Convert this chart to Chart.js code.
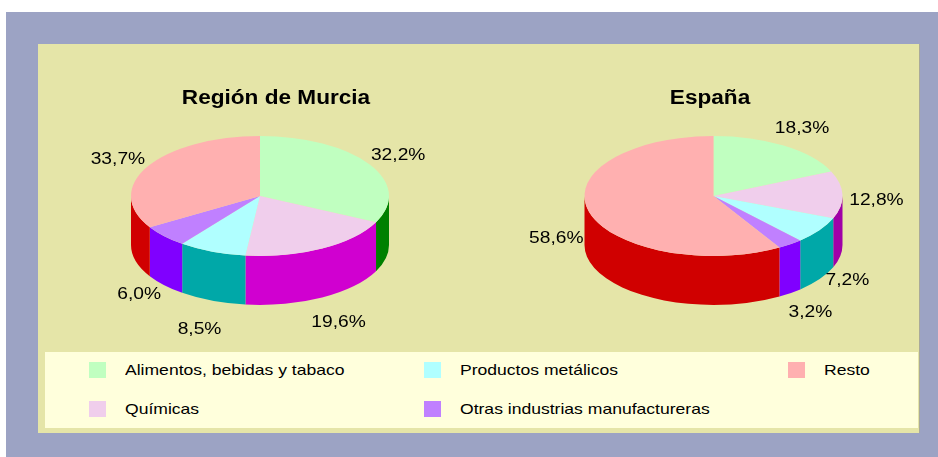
<!DOCTYPE html>
<html>
<head>
<meta charset="utf-8">
<script src="https://cdn.jsdelivr.net/npm/chart.js@4.4.1/dist/chart.umd.min.js"></script>
<style>
    body { margin: 0; background: #fff; font-family: 'Liberation Sans', Arial, sans-serif; }
    #frame { position: absolute; left: 6px; top: 12px; width: 932px; height: 445px; background: #9CA3C4; }
    #panel { position: absolute; left: 38px; top: 44px; width: 881px; height: 389px; background: #E5E5A8; border-right: 1px solid #A9A99A; }
    #legend { position: absolute; left: 45px; top: 352px; width: 873px; height: 76px; background: #FFFFDC; }
    .item { position: absolute; height: 16px; }
    .item i { position: absolute; left: 0; top: 0; width: 17px; height: 16px; }
    .item span { position: absolute; left: 36px; top: -1px; font-size: 15px; line-height: 18px; white-space: nowrap; color: #000;
                 transform: scaleX(1.17); transform-origin: 0 50%; }
    .box { position: absolute; top: 44px; width: 440px; height: 350px; }
</style>
</head>
<body>
<div id="frame"></div>
<div id="panel"></div>
<div id="legend"></div>
<div class="box" style="left:56px"><canvas id="murciaChart"></canvas></div>
<div class="box" style="left:490px"><canvas id="espanaChart"></canvas></div>

<script>
const categories = ['Alimentos, bebidas y tabaco', 'Químicas', 'Productos metálicos', 'Otras industrias manufactureras', 'Resto'];
const murciaValues = [32.2, 19.6, 8.5, 6.0, 33.7];
const espanaValues = [18.3, 12.8, 7.2, 3.2, 58.6];

const topColors = ['#C0FFC0', '#F0CEEC', '#B0FFFF', '#C080FF', '#FFB0B0'];
const murciaSides = ['#008000', '#D000D0', '#00A8A8', '#8000FF', '#D00000'];
const espanaSides = ['#008000', '#A000A8', '#00A8A8', '#8000FF', '#D00000'];

const FONT = "'Liberation Sans', Arial, sans-serif";

// legend (html), filled column by column like the original
const legendEl = document.getElementById('legend');
const colX = [44, 379, 743];
categories.forEach((name, i) => {
    const item = document.createElement('div');
    item.className = 'item';
    item.style.left = colX[Math.floor(i / 2)] + 'px';
    item.style.top = (i % 2 === 0 ? 10 : 49) + 'px';
    item.innerHTML = '<i style="background:' + topColors[i] + '"></i><span>' + name + '</span>';
    legendEl.appendChild(item);
});

function stretchedText(ctx, txt, x, y, sx) {
    ctx.save();
    ctx.translate(x, y);
    ctx.scale(sx, 1);
    ctx.fillText(txt, 0, 0);
    ctx.restore();
}

// fake 3D: side walls drawn first, then the pie is squashed into an ellipse
const pie3d = {
    id: 'pie3d',
    beforeDatasetsDraw(chart, args, opts) {
        const ctx = chart.ctx;
        const meta = chart.getDatasetMeta(0);
        const ds = chart.data.datasets[0];
        const first = meta.data[0];
        const cx = first.x, r = first.outerRadius;
        const top = first.y - r;
        const k = opts.tilt, depth = opts.depth;
        const ey = top + k * r;

        meta.data.forEach((arc, i) => {
            const s = Math.max(arc.startAngle, 0);
            const e = Math.min(arc.endAngle, Math.PI);
            if (e <= s) return;
            ctx.beginPath();
            ctx.ellipse(cx, ey, r, k * r, 0, s, e);
            ctx.ellipse(cx, ey + depth, r, k * r, 0, e, s, true);
            ctx.closePath();
            ctx.fillStyle = ds.sideColor[i];
            ctx.fill();
        });

        ctx.save();
        ctx.translate(0, top);
        ctx.scale(1, k);
        ctx.translate(0, -top);
    },
    afterDatasetsDraw(chart) {
        chart.ctx.restore();
    },
    afterDraw(chart, args, opts) {
        const ctx = chart.ctx;
        const meta = chart.getDatasetMeta(0);
        const values = chart.data.datasets[0].data;
        const first = meta.data[0];
        const cx = first.x, r = first.outerRadius;
        const top = first.y - r;
        const k = opts.tilt, depth = opts.depth;
        const ey = top + k * r;

        ctx.save();
        ctx.fillStyle = '#000';
        ctx.textAlign = 'center';

        // title, centred on the canvas
        ctx.font = 'bold 20px ' + FONT;
        ctx.textBaseline = 'alphabetic';
        stretchedText(ctx, opts.title, chart.width / 2, 60, 1.13);

        // percentage labels outside the slices
        ctx.font = '17px ' + FONT;
        ctx.textBaseline = 'middle';
        meta.data.forEach((arc, i) => {
            const mid = (arc.startAngle + arc.endAngle) / 2;
            const c = Math.cos(mid), sn = Math.sin(mid);
            const x = cx + (r + 34) * c;
            const y = ey + 6 + (k * r + 28) * sn + depth * Math.max(0, sn);
            const txt = values[i].toFixed(1).replace('.', ',') + '%';
            stretchedText(ctx, txt, x, y, 1.13);
        });
        ctx.restore();
    }
};

function makePie(id, title, values, sides, pad) {
    return new Chart(document.getElementById(id), {
        type: 'pie',
        data: {
            labels: categories,
            datasets: [{
                data: values,
                backgroundColor: topColors,
                borderWidth: 0,
                sideColor: sides
            }]
        },
        options: {
            responsive: true,
            maintainAspectRatio: false,
            animation: false,
            events: [],
            layout: { padding: { left: pad[0], right: pad[1], top: 92, bottom: 0 } },
            plugins: {
                legend: { display: false },
                tooltip: { enabled: false },
                pie3d: { title: title, tilt: 0.465, depth: 49 }
            }
        },
        plugins: [pie3d]
    });
}

makePie('murciaChart', 'Región de Murcia', murciaValues, murciaSides, [20, 52]);
makePie('espanaChart', 'España', espanaValues, espanaSides, [40, 33]);
</script>
</body>
</html>
